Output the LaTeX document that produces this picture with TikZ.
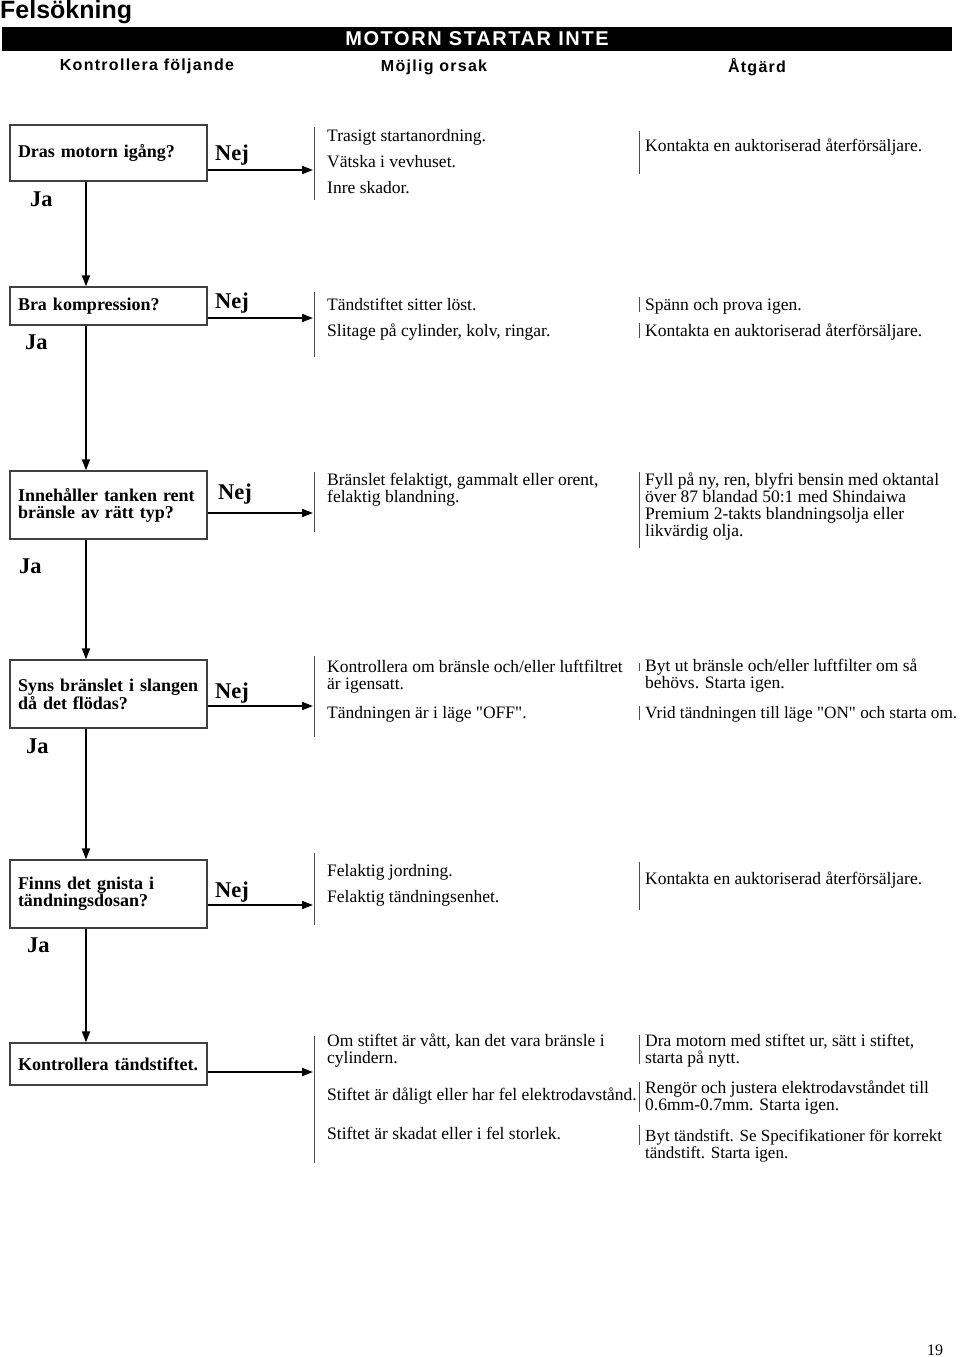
\documentclass[tikz,border=0pt]{standalone}
\usepackage{fontspec}
\setmainfont{Liberation Serif}[Ligatures=TeXOff]
\newfontfamily\hsans{Liberation Sans}
\usetikzlibrary{arrows.meta}
\begin{document}
\begin{tikzpicture}[x=1pt,y=-1pt,
  box/.style={draw=black!75, line width=1.3pt, text width=181pt, inner xsep=8pt, inner ysep=0pt, align=left, font=\bfseries\fontsize{18}{17}\selectfont, anchor=center},
  txt/.style={anchor=north west, inner sep=0pt, align=left, font=\fontsize{17.5}{17}\selectfont, execute at begin node={\rule{0pt}{13pt}}},
  lst/.style={txt, font=\fontsize{17.5}{26}\selectfont},
  yn/.style={inner sep=0pt, anchor=base west, font=\bfseries\fontsize{22.5}{24}\selectfont},
  flow/.style={line width=1.8pt, -{Triangle[length=11pt,width=8pt]}},
  bar/.style={line width=1pt, draw=black!70},
  colhead/.style={inner sep=0pt, anchor=center, font=\hsans\bfseries\fontsize{16}{18}\selectfont\addfontfeatures{LetterSpace=8}},
]
\useasboundingbox (0,0) rectangle (960,1357);

% header
\node[anchor=west, inner sep=0pt, font=\hsans\bfseries\fontsize{25}{27}\selectfont] (title) at (0,12) {Felsökning};
\node[fill=black, minimum width=950pt, minimum height=24pt, inner sep=0pt, anchor=north west] (hdr) at (2,27) {};
\node[inner sep=0pt, text=white, font=\hsans\bfseries\fontsize{20}{22}\selectfont\addfontfeatures{LetterSpace=8}] (hdrtxt) at (477,39) {MOTORN STARTAR INTE};
\node[colhead] (h1) at (147,66) {Kontrollera följande};
\node[colhead] (h2) at (434,67) {Möjlig orsak};
\node[colhead] (h3) at (757,67) {Åtgärd};

% boxes
\node[box, minimum height=56pt] (b1) at (108.5,153) {Dras motorn igång?};
\node[box, minimum height=38pt] (b2) at (108.5,306) {Bra kompression?};
\node[box, minimum height=68pt] (b3) at (108.5,505) {Innehåller tanken rent\\bränsle av rätt typ?};
\node[box, minimum height=68pt] (b4) at (108.5,694) {Syns bränslet i slangen\\då det flödas?};
\node[box, minimum height=68pt] (b5) at (108.5,894) {Finns det gnista i\\tändningsdosan?};
\node[box, minimum height=42pt] (b6) at (108.5,1064) {Kontrollera tändstiftet.};

% Nej / Ja labels
\node[yn] (n1) at (215,160) {Nej};
\node[yn] (n2) at (215,308) {Nej};
\node[yn] (n3) at (218,499) {Nej};
\node[yn] (n4) at (215,698) {Nej};
\node[yn] (n5) at (215,897) {Nej};
\node[yn] (j1) at (30,206) {Ja};
\node[yn] (j2) at (25,349) {Ja};
\node[yn] (j3) at (19,573) {Ja};
\node[yn] (j4) at (26,753) {Ja};
\node[yn] (j5) at (27,952) {Ja};

% vertical Ja connectors
\draw[flow] ([xshift=-22.5pt]b1.south) -- ([xshift=-22.5pt]b2.north);
\draw[flow] ([xshift=-22.5pt]b2.south) -- ([xshift=-22.5pt]b3.north);
\draw[flow] ([xshift=-22.5pt]b3.south) -- ([xshift=-22.5pt]b4.north);
\draw[flow] ([xshift=-22.5pt]b4.south) -- ([xshift=-22.5pt]b5.north);
\draw[flow] ([xshift=-22.5pt]b5.south) -- ([xshift=-22.5pt]b6.north);

% horizontal connectors to cause columns
\coordinate (a1) at (313,170);
\coordinate (a2) at (313,318);
\coordinate (a3) at (313,513);
\coordinate (a4) at (313,706);
\coordinate (a5) at (313,905);
\coordinate (a6) at (313,1072);
\draw[flow] (b1.east |- a1) -- (a1);
\draw[flow] (b2.east |- a2) -- (a2);
\draw[flow] (b3.east |- a3) -- (a3);
\draw[flow] (b4.east |- a4) -- (a4);
\draw[flow] (b5.east |- a5) -- (a5);
\draw[flow] (b6.east |- a6) -- (a6);

% cause bars
\draw[bar] (314,127) -- (314,200);
\draw[bar] (314,292) -- (314,357);
\draw[bar] (314,472) -- (314,532);
\draw[bar] (314,656) -- (314,737);
\draw[bar] (314,853) -- (314,925);
\draw[bar] (314,1036) -- (314,1163);

% causes
\node[lst] (c1) at (327,129) {Trasigt startanordning.\\Vätska i vevhuset.\\Inre skador.};
\node[lst] (c2) at (327,297.5) {Tändstiftet sitter löst.\\Slitage på cylinder, kolv, ringar.};
\node[txt] (c3) at (327,473) {Bränslet felaktigt, gammalt eller orent,\\felaktig blandning.};
\node[txt] (c4a) at (327,660) {Kontrollera om bränsle och/eller luftfiltret\\är igensatt.};
\node[txt] (c4b) at (327,705) {Tändningen är i läge "OFF".};
\node[lst] (c5) at (327,864) {Felaktig jordning.\\Felaktig tändningsenhet.};
\node[txt] (c6a) at (327,1034) {Om stiftet är vått, kan det vara bränsle i\\cylindern.};
\node[txt] (c6b) at (327,1087) {Stiftet är dåligt eller har fel elektrodavstånd.};
\node[txt] (c6c) at (327,1126) {Stiftet är skadat eller i fel storlek.};

% action bars
\draw[bar] (639,131) -- (639,174);
\draw[bar] (639,297) -- (639,312);
\draw[bar] (639,323) -- (639,338);
\draw[bar] (639,472) -- (639,548);
\draw[bar] (639,663) -- (639,671);
\draw[bar] (639,706) -- (639,720);
\draw[bar] (639,862) -- (639,910);
\draw[bar] (639,1035) -- (639,1064);
\draw[bar] (639,1082) -- (639,1112);
\draw[bar] (639,1125) -- (639,1145);

% actions
\node[txt] (r1) at (645,138) {Kontakta en auktoriserad återförsäljare.};
\node[txt] (r2a) at (645,297) {Spänn och prova igen.};
\node[txt] (r2b) at (645,323) {Kontakta en auktoriserad återförsäljare.};
\node[txt] (r3) at (645,473) {Fyll på ny, ren, blyfri bensin med oktantal\\över 87 blandad 50:1 med Shindaiwa\\Premium 2-takts blandningsolja eller\\likvärdig olja.};
\node[txt] (r4a) at (645,659) {Byt ut bränsle och/eller luftfilter om så\\behövs. Starta igen.};
\node[txt, font=\fontsize{17.2}{17}\selectfont] (r4b) at (645,705) {Vrid tändningen till läge "ON" och starta om.};
\node[txt] (r5) at (645,871) {Kontakta en auktoriserad återförsäljare.};
\node[txt] (r6a) at (645,1034) {Dra motorn med stiftet ur, sätt i stiftet,\\starta på nytt.};
\node[txt] (r6b) at (645,1081) {Rengör och justera elektrodavståndet till\\0.6mm-0.7mm. Starta igen.};
\node[txt, font=\fontsize{17}{17}\selectfont] (r6c) at (645,1129) {Byt tändstift. Se Specifikationer för korrekt\\tändstift. Starta igen.};

% page number
\node[inner sep=0pt, font=\fontsize{16}{18}\selectfont] (pg) at (935,1350) {19};
\end{tikzpicture}
\end{document}
